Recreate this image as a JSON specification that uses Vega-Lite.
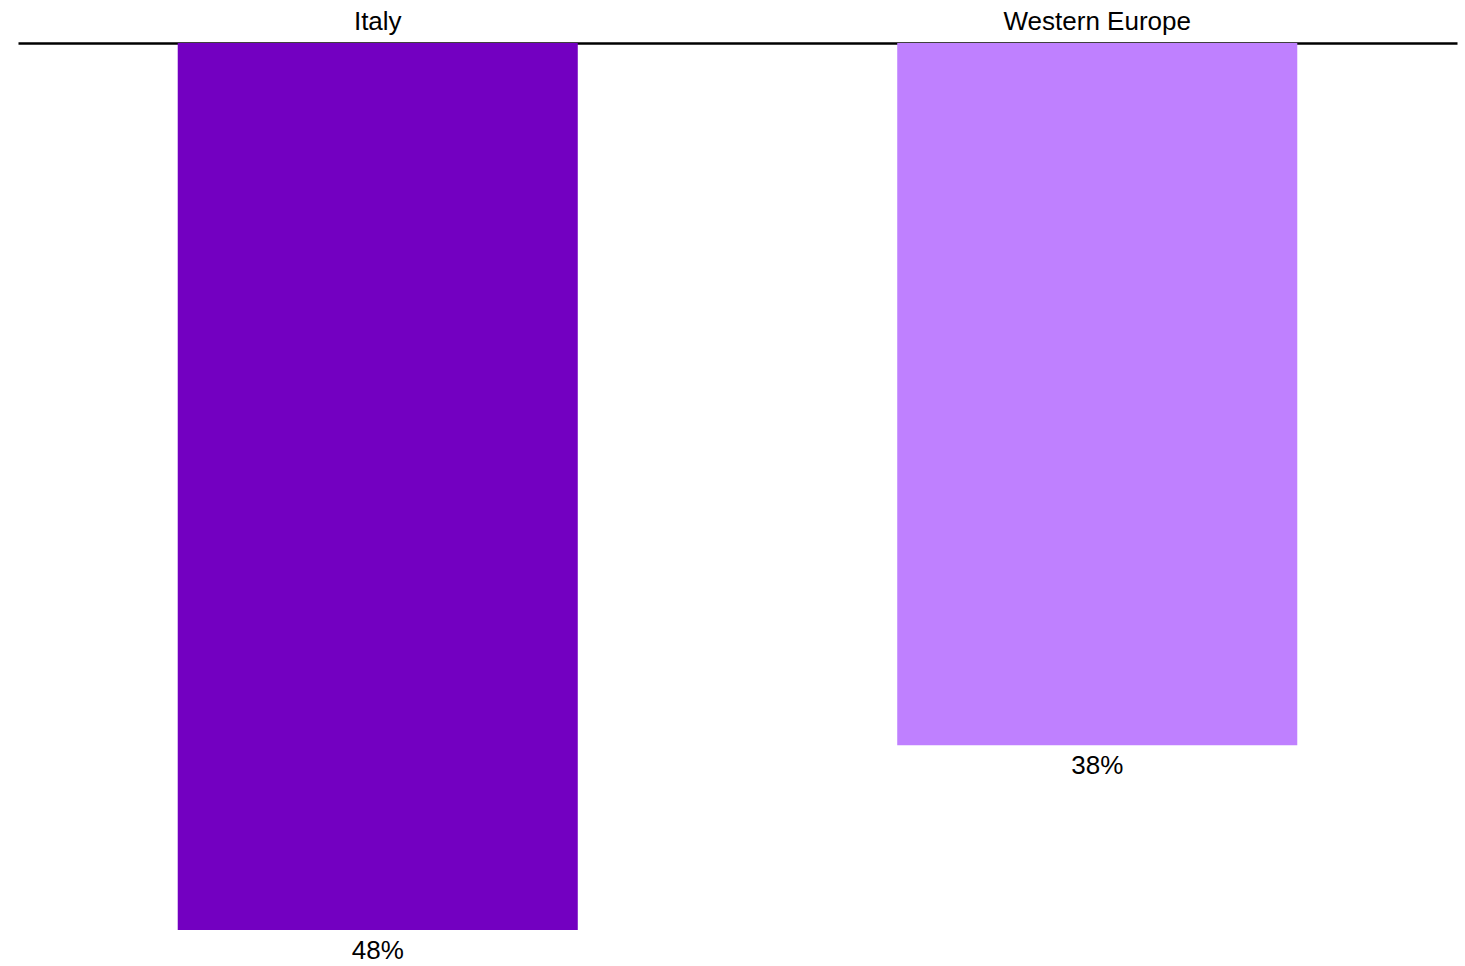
{
  "$schema": "https://vega.github.io/schema/vega-lite/v6.json",
  "autosize": {"type": "none"},
  "width": 1439,
  "height": 891,
  "padding": {"left": 18, "top": 43, "right": 8, "bottom": 32},
  "background": "white",
  "config": {"view": {"stroke": null}, "font": "Liberation Sans"},
  "data": {
    "values": [
      {"region": "Italy", "share": 0.48},
      {"region": "Western Europe", "share": 0.38}
    ]
  },
  "encoding": {
    "x": {
      "field": "region",
      "type": "nominal",
      "sort": null,
      "scale": {"paddingInner": 0.444, "paddingOuter": 0.222},
      "axis": {
        "orient": "top",
        "title": null,
        "ticks": false,
        "labelAngle": 0,
        "labelFontSize": 26,
        "labelLimit": 0,
        "labelColor": "black",
        "labelPadding": 9,
        "domainColor": "black",
        "domainWidth": 2.5
      }
    },
    "y": {
      "field": "share",
      "type": "quantitative",
      "scale": {"domain": [0, 0.4822], "reverse": true, "nice": false},
      "axis": null
    }
  },
  "layer": [
    {
      "mark": {"type": "bar"},
      "encoding": {
        "color": {
          "field": "region",
          "type": "nominal",
          "scale": {"domain": ["Italy", "Western Europe"], "range": ["#7300C1", "#BF80FF"]},
          "legend": null
        }
      }
    },
    {
      "mark": {"type": "text", "baseline": "top", "dy": 8, "fontSize": 26, "color": "black"},
      "encoding": {
        "text": {"field": "share", "type": "quantitative", "format": ".0%"}
      }
    }
  ]
}
